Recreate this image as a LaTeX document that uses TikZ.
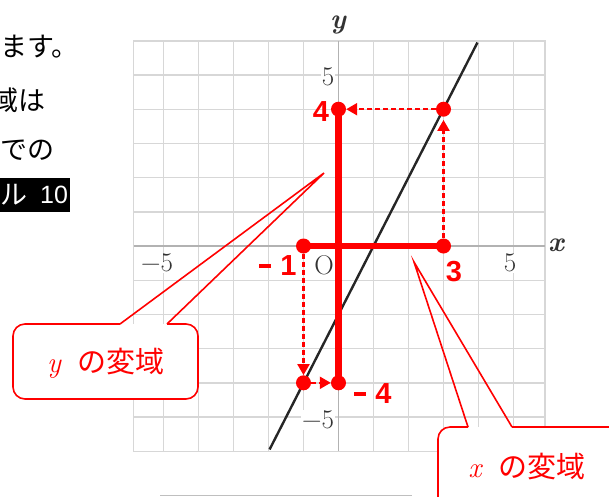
\documentclass[tikz,border=0pt]{standalone}
\usepackage{fontspec}
\setsansfont{Liberation Sans}
\newfontfamily\cjk{Noto Sans CJK JP}
\usetikzlibrary{arrows.meta}
\definecolor{rd}{RGB}{255,0,0}
\definecolor{gridc}{RGB}{215,215,215}
\begin{document}
\begin{tikzpicture}[x=1pt,y=-1pt,
  gridline/.style={draw=gridc, line width=1.4pt},
  axisline/.style={draw=black!30, line width=1.6pt},
  graphline/.style={draw=black!85, line width=2.4pt},
  rangeline/.style={draw=rd, line width=6.5pt},
  dot/.style={circle, fill=rd, inner sep=0pt, minimum size=15pt},
  dasharrow/.style={draw=rd, line width=2.2pt, dash pattern=on 5pt off 3pt, -{Triangle[length=11pt,width=12pt,fill=rd,color=rd]}},
  valuelabel/.style={text=rd, font=\sffamily\bfseries\fontsize{29}{29}\selectfont, inner sep=0pt},
  ticklabel/.style={font=\fontsize{27}{27}\selectfont, text=black!80, fill=white, inner sep=1pt},
  callout/.style={draw=rd, line width=1.6pt},
  callouttext/.style={text=rd, inner sep=0pt, font=\fontsize{29}{32}\selectfont},
  fragment/.style={font=\cjk\fontsize{27}{30}\selectfont, inner sep=0pt, anchor=west},
]
\useasboundingbox (0,0) rectangle (609,496);
\clip (0,0) rectangle (609,496);

% text fragments at the left edge
\node[fragment] (t1) at (0,47) {ます。};
\node[fragment] (t2) at (-9,100) {域は};
\node[fragment] (t3) at (0,150) {での};
\node[fill=black, minimum width=70pt, minimum height=34pt, inner sep=0pt, anchor=north west] (t4box) at (0,178) {};
\node[fragment, text=white] (t4a) at (0,195) {ル};
\node[text=white, inner sep=0pt, anchor=west, font=\sffamily\fontsize{25}{30}\selectfont] (t4b) at (40,195) {10};

% bottom rule
\draw[black!25, line width=1pt] (160,495) -- (412,495);

% graph
\begin{scope}[shift={(338.5,246)}, x=35pt, y=34.2pt]
  \foreach \i in {-5,...,5} \draw[gridline] (\i,-6) -- (\i,6);
  \foreach \j in {-6,...,6} \draw[gridline] (-5.85,\j) -- (5.9,\j);
  \draw[gridline] (-5.85,-6) rectangle (5.9,6);
  \draw[axisline] (-5.85,0) -- (5.9,0);
  \draw[axisline] (0,-6) -- (0,6);
  \coordinate (gl1) at (-1.97,-5.95);
  \coordinate (gl2) at (3.97,5.95);
  \draw[graphline] (gl1) -- (gl2);

  \node[dot] (ytop) at (0,4) {};
  \node[dot] (ybot) at (0,-4) {};
  \node[dot] (xleft) at (-1,0) {};
  \node[dot] (xright) at (3,0) {};
  \node[dot] (pA) at (3,4) {};
  \node[dot] (pB) at (-1,-4) {};

  \draw[rangeline] (ytop.center) -- (ybot.center);
  \draw[rangeline] (xleft.center) -- (xright.center);

  \draw[dasharrow, shorten >=3pt] (xright) -- (pA);
  \draw[dasharrow] (pA) -- (ytop);
  \draw[dasharrow] (xleft) -- (pB);
  \draw[dasharrow] (pB) -- (ybot);
\end{scope}

% tick and axis labels
\node[ticklabel] (xm5) at (157,263) {−5};
\node[ticklabel] (xp5) at (510,263) {5};
\node[ticklabel] (yp5) at (328,77) {5};
\node[ticklabel] (ym5) at (318,420) {−5};
\node[ticklabel] (orig) at (324,265) {O};
\node[ticklabel, font=\bfseries\fontsize{28}{28}\selectfont] (xname) at (556,245) {\itshape x};
\node[ticklabel, font=\bfseries\fontsize{28}{28}\selectfont] (yname) at (338,25) {\itshape y};

% value labels
\node[valuelabel] (v4) at (321,112) {4};
\node[valuelabel] (vm1) at (278,266) {\rule[7.5pt]{12pt}{4.5pt}\hspace{9pt}1};
\node[valuelabel] (v3) at (454,272) {3};
\node[valuelabel] (vm4) at (373,394) {\rule[7.5pt]{12pt}{4.5pt}\hspace{9pt}4};

% y-range callout
\fill[white, rounded corners=12pt] (13,324) rectangle (198,399);
\draw[callout, rounded corners=12pt] (120,324) -- (13,324) -- (13,399) -- (198,399) -- (198,324) -- (167,324);
\coordinate (yb1) at (120,324);
\coordinate (yb2) at (167,324);
\coordinate (ytip) at (324,173);
\draw[callout, line join=miter] (yb1) -- (ytip) -- (yb2);
\node[callouttext] (ycall) at (106,363) {\itshape y\upshape\hspace{17pt}{\cjk の変域}};

% x-range callout
\fill[white, rounded corners=12pt] (438,427) rectangle (640,530);
\draw[callout, rounded corners=12pt] (468,427) -- (438,427) -- (438,530);
\draw[callout] (512,427) -- (640,427);
\coordinate (xb1) at (468,427);
\coordinate (xb2) at (512,427);
\coordinate (xtip) at (414,262);
\draw[callout, line join=miter] (xb1) -- (xtip) -- (xb2);
\node[callouttext] (xcall) at (527,467) {\itshape x\upshape\hspace{17pt}{\cjk の変域}};
\end{tikzpicture}
\end{document}
